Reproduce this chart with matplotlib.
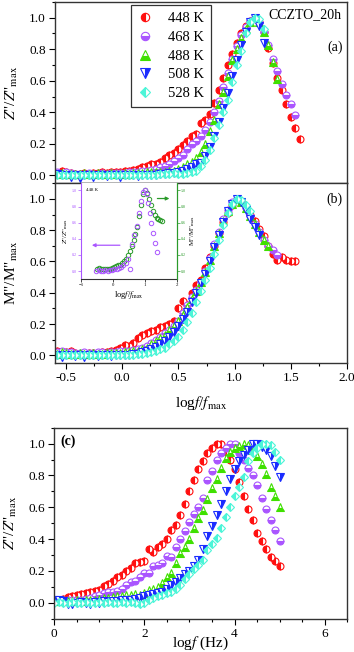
import matplotlib
matplotlib.use('Agg')
import matplotlib.pyplot as plt
from matplotlib.ticker import MultipleLocator

plt.rcParams['font.family'] = ['Liberation Serif', 'DejaVu Serif']
plt.rcParams['mathtext.fontset'] = 'stix'

temps = ['448 K', '468 K', '488 K', '508 K', '528 K']
colors = ['#ff1010', '#aa55ff', '#3fe000', '#1a2cff', '#4cf5d8']
markers = ['o', 'o', '^', 'v', 'D']
fills = ['left', 'bottom', 'bottom', 'right', 'left']
msizes = [5, 5, 5.5, 5.5, 4.5]

# ---- panel (a): Z''/Z''max vs log(f/fmax)
xa = [-0.58, -0.54, -0.50, -0.46, -0.42, -0.38, -0.34, -0.30, -0.26, -0.22, -0.18,
      -0.14, -0.10, -0.06, -0.02, 0.02, 0.06, 0.10, 0.14, 0.18, 0.22, 0.26, 0.30,
      0.34, 0.38, 0.42, 0.46, 0.50, 0.54, 0.58, 0.62, 0.66, 0.70, 0.74, 0.78, 0.82,
      0.86, 0.90, 0.94, 0.98, 1.02, 1.06, 1.10, 1.14, 1.18, 1.22, 1.26, 1.30, 1.34,
      1.38, 1.42, 1.46, 1.50, 1.54, 1.58]
za_448 = [.015, .027, .02, .015, .01, .01, .012, .01, .012, .015, .02, .015, .018, .02,
          .022, .025, .03, .035, .04, .05, .06, .07, .075, .085, .11, .13, .14, .17, .195,
          .22, .25, .26, .33, .35, .39, .46, .54, .62, .70, .77, .84, .90, .95, .98, 1.0,
          .97, .91, .81, .71, .62, .54, .45, .37, .30, .23]
za_468 = [.02, .01, .02, .015, .01, .01, .01, .012, .01, .01, .012, .01, .012, .015, .015,
          .015, .018, .02, .02, .025, .03, .035, .04, .05, .06, .075, .09, .11, .13, .17,
          .20, .22, .25, .29, .34, .40, .47, .56, .65, .74, .82, .89, .94, .98, 1.0, .97,
          .91, .83, .74, .66, .58, .51, .45, .38]
za_488 = [.01, .015, .01, .01, .008, .01, .012, .01, .01, .012, .01, .01, .012, .01, .01,
          .012, .01, .012, .015, .015, .018, .02, .02, .02, .02, .025, .03, .04, .055, .07,
          .085, .11, .15, .20, .28, .35, .45, .53, .63, .73, .80, .87, .93, .97, 1.0, .97,
          .91, .83, .72, .61]
za_508 = [.01, .005, 0, -.01, 0, -.015, 0, .005, -.01, 0, .005, -.005, 0, .005, -.01, 0,
          .005, 0, -.005, .005, 0, .005, .005, .01, .01, .015, .015, .02, .03, .04, .05,
          .07, .08, .12, .18, .25, .34, .43, .52, .63, .73, .83, .91, .97, 1.0, .95, .84]
za_528 = [0, .005, 0, .005, 0, 0, .005, 0, 0, .005, 0, 0, .005, 0, 0, .005, 0, 0, .005, 0,
          .005, 0, .005, .01, .01, .01, .015, .01, .01, .015, .02, .03, .06, .10, .16, .24,
          .32, .40, .48, .59, .70, .79, .90, .97, 1.0, .99, .93]

# ---- panel (b): M''/M''max vs log(f/fmax)
mb_448 = [.03, .02, .02, .03, .015, .01, .012, .015, .015, .018, .02, .02, .025, .035,
          .05, .065, .06, .08, .11, .13, .145, .155, .165, .18, .19, .20, .22, .30, .345,
          .32, .40, .45, .48, .56, .63, .70, .78, .85, .91, .96, 1.0, .985, .95, .90, .86,
          .81, .76, .70, .65, .61, .63, .61, .60, .60]
mb_468 = [.02, .03, .02, .02, .015, .015, .02, .015, .015, .02, .02, .015, .02, .02, .025,
          .025, .03, .035, .04, .05, .06, .08, .10, .12, .14, .16, .19, .22, .27, .32, .37,
          .42, .47, .54, .62, .71, .79, .87, .93, .98, 1.0, .98, .94, .89, .84, .79, .74,
          .70, .67, .64]
mb_488 = [.01, .02, .015, .01, .01, .012, .01, .01, .012, .01, .01, .015, .012, .015, .015,
          .02, .02, .025, .03, .04, .05, .07, .09, .11, .13, .16, .19, .22, .26, .31, .36,
          .41, .47, .53, .61, .70, .78, .86, .92, .97, 1.0, .98, .94, .89, .84, .79, .74, .70]
mb_508 = [0, -.01, .005, 0, -.005, 0, -.01, 0, .005, -.005, 0, .005, -.005, 0, .005, 0,
          .005, .01, .01, .02, .03, .04, .055, .07, .09, .12, .15, .19, .23, .28, .34, .40,
          .46, .52, .60, .69, .77, .85, .92, .97, 1.0, .98, .93, .87, .82, .77]
mb_528 = [0, .005, 0, .005, 0, 0, .005, 0, .005, 0, 0, .005, 0, .005, 0, 0, .005, .005,
          .01, .01, .015, .02, .03, .04, .05, .07, .09, .12, .16, .21, .27, .34, .41, .48,
          .56, .65, .74, .83, .91, .97, 1.0, .99, .96, .92]

# ---- inset (448 K): Z'' and M'' together
zi_x = [-0.52, -0.45, -0.38, -0.31, -0.24, -0.17, -0.10, -0.03, 0.04, 0.11, 0.18, 0.25,
        0.32, 0.39, 0.46, 0.53, 0.60, 0.67, 0.74, 0.81, 0.88, 0.95, 1.00, 1.05, 1.10,
        1.15, 1.20, 1.25, 1.30, 1.36]
zi_y = [0.0, 0.01, 0.0, 0.0, 0.01, 0.0, 0.01, 0.01, 0.02, 0.03, 0.04, 0.05, 0.07, 0.10,
        0.15, 0.02, 0.33, 0.45, 0.56, 0.72, 0.87, 0.98, 1.0, 0.95, 0.85, 0.72, 0.60,
        0.47, 0.35, 0.24]
mi_x = [-0.50, -0.44, -0.38, -0.32, -0.26, -0.20, -0.14, -0.08, -0.02, 0.04, 0.10, 0.16,
        0.22, 0.28, 0.34, 0.40, 0.46, 0.52, 0.58, 0.64, 0.70, 0.76, 0.82, 0.88, 0.94,
        1.00, 1.06, 1.12, 1.18, 1.24, 1.30, 1.36, 1.42, 1.48, 1.53]
mi_y = [0.03, 0.04, 0.03, 0.03, 0.02, 0.03, 0.02, 0.03, 0.04, 0.05, 0.06, 0.07, 0.08,
        0.10, 0.12, 0.15, 0.20, 0.25, 0.31, 0.38, 0.46, 0.55, 0.68, 0.82, 0.95, 1.0,
        0.97, 0.90, 0.82, 0.75, 0.70, 0.66, 0.64, 0.63, 0.62]

# ---- panel (c): Z''/Z''max vs log f
logf = [0.0, 0.1, 0.2, 0.3, 0.4, 0.5, 0.6, 0.7, 0.8, 0.9, 1.0, 1.1, 1.2, 1.3, 1.4, 1.5,
        1.6, 1.7, 1.8, 1.9, 2.0, 2.1, 2.2, 2.3, 2.4, 2.5, 2.6, 2.7, 2.8, 2.9, 3.0, 3.1,
        3.2, 3.3, 3.4, 3.5, 3.6, 3.7, 3.8, 3.9, 4.0, 4.1, 4.2, 4.3, 4.4, 4.5, 4.6, 4.7,
        4.8, 4.9, 5.0]
zc_448 = [.02, .02, .025, .035, .045, .05, .055, .06, .065, .072, .08, .105, .12, .14, .16,
          .175, .20, .22, .25, .255, .26, .34, .32, .35, .37, .40, .46, .49, .55, .62, .70,
          .77, .84, .89, .94, .97, 1.0, 1.0, .95, .90, .84, .76, .67, .59, .52, .44, .39,
          .34, .29, .26, .23]
zc_468 = [.01, .01, .015, .015, .02, .02, .02, .025, .03, .04, .05, .06, .07, .07, .075, .09,
          .11, .13, .135, .16, .185, .19, .23, .24, .25, .295, .29, .35, .40, .45, .51, .56,
          .60, .66, .77, .83, .90, .94, .97, 1.0, 1.0, .94, .90, .85, .80, .74, .66, .59,
          .52, .46, .39]
zc_488 = [.01, .01, .015, .01, .01, .015, .01, .015, .02, .02, .025, .03, .03, .035, .04,
          .045, .05, .05, .055, .05, .06, .08, .09, .10, .125, .16, .19, .25, .31, .35, .40,
          .47, .53, .58, .65, .72, .78, .85, .91, .95, .97, .985, 1.0, .99, .96, .92, .87,
          .81, .73, .67, .60]
zc_508 = [.02, .02, .01, -.005, -.01, 0, .005, 0, -.005, .005, 0, .01, .005, .01, .01, .015,
          .02, .02, .025, .03, .04, .05, .055, .06, .07, .09, .11, .13, .155, .18, .20, .23,
          .27, .34, .42, .48, .55, .62, .70, .78, .84, .89, .93, .96, 1.0, 1.0, .98, .96,
          .92, .86, .79]
zc_528 = [0, .005, 0, 0, .005, 0, 0, .005, 0, 0, .005, 0, .005, 0, 0, .005, 0, .005, 0,
          -.005, 0, .02, .03, .04, .05, .06, .07, .09, .115, .15, .18, .21, .24, .27, .33,
          .37, .41, .47, .54, .60, .67, .73, .79, .89, .94, .97, 1.0, 1.0, .99, .95, .90]

za = [za_448, za_468, za_488, za_508, za_528]
mb = [mb_448, mb_468, mb_488, mb_508, mb_528]
zc = [zc_448, zc_468, zc_488, zc_508, zc_528]


def style(ax, xmaj, xmin):
    for s in ax.spines.values():
        s.set_linewidth(1.0)
        s.set_color('#333333')
    ax.xaxis.set_major_locator(MultipleLocator(xmaj))
    ax.xaxis.set_minor_locator(MultipleLocator(xmin))
    ax.yaxis.set_major_locator(MultipleLocator(0.2))
    ax.yaxis.set_minor_locator(MultipleLocator(0.1))
    ax.tick_params(which='major', direction='out', length=4, width=0.8, labelsize=9.5, pad=2.5)
    ax.tick_params(which='minor', direction='out', length=2.5, width=0.8)
    ax.yaxis.set_major_formatter(matplotlib.ticker.FormatStrFormatter('%.1f'))


def scatter(ax, x, y, i, ms=None):
    return ax.plot(x[:len(y)], y, linestyle='none', marker=markers[i], fillstyle=fills[i],
                   markersize=ms or msizes[i], markerfacecolor=colors[i],
                   markerfacecoloralt='white', markeredgecolor=colors[i],
                   markeredgewidth=0.8, label=temps[i])[0]


fig = plt.figure(figsize=(3.54, 6.52), dpi=100)
ax_a = fig.add_axes([0.155, 0.719, 0.825, 0.278])
ax_b = fig.add_axes([0.155, 0.443, 0.825, 0.276])
ax_c = fig.add_axes([0.153, 0.051, 0.828, 0.293])

handles = []
for i in range(5):
    handles.append(scatter(ax_a, xa, za[i], i))
    scatter(ax_b, xa, mb[i], i)
    scatter(ax_c, logf, zc[i], i)

for ax in (ax_a, ax_b):
    style(ax, 0.5, 0.25)
    ax.set_xlim(-0.6, 2.0)
    ax.set_ylim(-0.05, 1.1)
ax_a.tick_params(axis='x', which='both', length=0, labelbottom=False)
ax_b.xaxis.set_major_formatter(matplotlib.ticker.FormatStrFormatter('%.1f'))

style(ax_c, 2, 0.5)
ax_c.set_xlim(0, 6.5)
ax_c.set_ylim(-0.1, 1.1)
ax_c.xaxis.set_major_formatter(matplotlib.ticker.FormatStrFormatter('%d'))

ax_a.set_ylabel(r'$Z$"/$Z$"$_{\rm max}$', fontsize=11)
ax_a.yaxis.set_label_coords(-0.12, 0.5)
ax_b.set_ylabel(r'M"/M"$_{\rm max}$', fontsize=11)
ax_b.yaxis.set_label_coords(-0.12, 0.5)
ax_b.set_xlabel(r'log$f$/$f_{\rm max}$', fontsize=11)
ax_b.xaxis.set_label_coords(0.5, -0.17)
ax_c.set_ylabel(r'$Z$"/$Z$"$_{\rm max}$', fontsize=11)
ax_c.yaxis.set_label_coords(-0.12, 0.5)
ax_c.set_xlabel(r'log$f$ (Hz)', fontsize=11)
ax_c.xaxis.set_label_coords(0.5, -0.085)

ax_a.text(0.98, 0.93, 'CCZTO_20h', transform=ax_a.transAxes, ha='right', va='center',
          fontsize=10)
ax_a.text(0.985, 0.75, '(a)', transform=ax_a.transAxes, ha='right', va='center', fontsize=10)
ax_b.text(0.985, 0.91, '(b)', transform=ax_b.transAxes, ha='right', va='center', fontsize=10)
ax_c.text(0.02, 0.93, '(c)', transform=ax_c.transAxes, ha='left', va='center', fontsize=10,
          fontweight='bold')

leg = ax_a.legend(handles=handles, loc='upper left', bbox_to_anchor=(0.262, 0.985),
                  fontsize=10.5, frameon=True, fancybox=False, framealpha=1,
                  edgecolor='#333333', handlelength=0.9, handletextpad=1.1,
                  borderpad=0.5, labelspacing=0.38, markerscale=1.2,
                  borderaxespad=0)
leg.get_frame().set_linewidth(0.9)

# inset in (b)
ax_in = fig.add_axes([0.229, 0.572, 0.271, 0.147])
ax_in.plot(mi_x, mi_y, linestyle='none', marker='o', markersize=3.2, markerfacecolor='none',
           markeredgecolor='#2a9a2a', markeredgewidth=0.7)
ax_in.plot(zi_x, zi_y, linestyle='none', marker='o', markersize=3.2, markerfacecolor='none',
           markeredgecolor='#aa55ff', markeredgewidth=0.7)
ax_in.set_xlim(-1, 2)
ax_in.set_ylim(-0.1, 1.09)
ax_in.spines['top'].set_visible(False)
ax_in.spines['left'].set_color('#aa55ff')
ax_in.spines['right'].set_color('#2a9a2a')
ax_in.spines['bottom'].set_color('#333333')
for s in ax_in.spines.values():
    s.set_linewidth(0.8)
ax_in.xaxis.set_major_locator(MultipleLocator(1))
ax_in.yaxis.set_major_locator(MultipleLocator(0.2))
ax_in.tick_params(axis='x', labelsize=3.5, length=2, width=0.5, pad=1)
ax_in.tick_params(axis='y', labelsize=3, length=2, width=0.5, pad=1,
                  colors='#aa55ff', labelcolor='#aa55ff')
ax_in.yaxis.set_major_formatter(matplotlib.ticker.FormatStrFormatter('%.1f'))
ax_in.set_ylabel(r'$Z$"/$Z$"$_{\rm max}$', fontsize=5, labelpad=1)
ax_in.set_xlabel(r'log$f$/$f_{\rm max}$', fontsize=6, labelpad=1)
ax_in2 = ax_in.twinx()
ax_in2.set_ylim(-0.1, 1.09)
ax_in2.spines['top'].set_visible(False)
ax_in2.spines['left'].set_visible(False)
ax_in2.spines['bottom'].set_visible(False)
ax_in2.spines['right'].set_color('#2a9a2a')
ax_in2.spines['right'].set_linewidth(0.8)
ax_in2.yaxis.set_major_locator(MultipleLocator(0.2))
ax_in2.yaxis.set_major_formatter(matplotlib.ticker.FormatStrFormatter('%.1f'))
ax_in2.tick_params(axis='y', labelsize=3, length=2, width=0.5, pad=1,
                   colors='#2a9a2a', labelcolor='#2a9a2a')
ax_in2.set_ylabel(r'M"/M"$_{\rm max}$', fontsize=5, labelpad=1)
ax_in.text(-0.85, 1.0, '448 K', fontsize=3.5, va='center')
ax_in.annotate('', xy=(-0.75, 0.32), xytext=(0.3, 0.32),
               arrowprops=dict(arrowstyle='-|>', color='#aa55ff', lw=0.9,
                               mutation_scale=5))
ax_in.annotate('', xy=(1.85, 0.9), xytext=(1.3, 0.9),
               arrowprops=dict(arrowstyle='-|>', color='#2a9a2a', lw=0.9,
                               mutation_scale=5))

fig.savefig('out.png', dpi=100)
